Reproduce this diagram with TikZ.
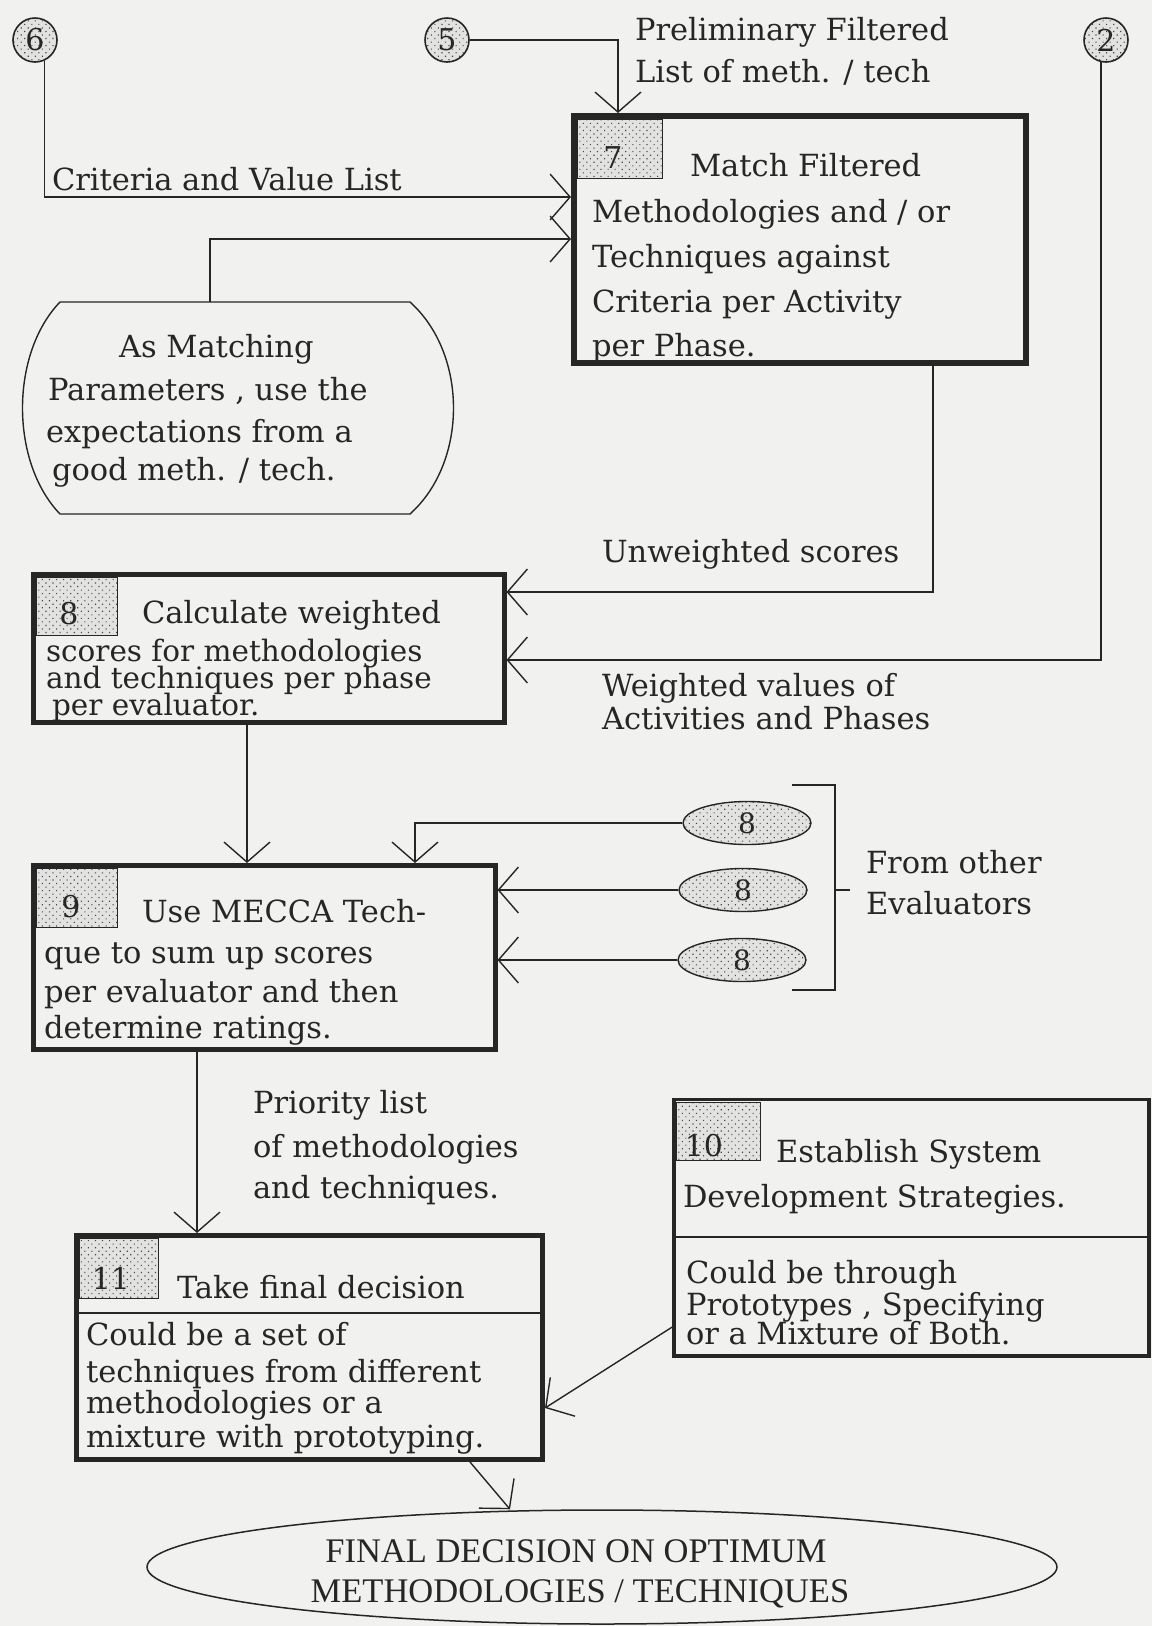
\documentclass[tikz,border=0pt]{standalone}
\usepackage{fontspec}
\setmainfont{DejaVu Serif}
\newfontfamily\capsfont{Liberation Serif}
\usetikzlibrary{arrows.meta,shapes.geometric,patterns.meta}

\definecolor{ink}{RGB}{38,38,38}
\definecolor{paper}{RGB}{241,241,239}
\definecolor{tagfill}{RGB}{226,226,224}

\newcommand\diagfont{\fontsize{30.5}{34}\selectfont}
\newcommand\tightfont{\fontsize{29.5}{32}\selectfont}
\newcommand\tagfont{\fontsize{30}{32}\selectfont}
\newcommand\refnumfont{\fontsize{30}{32}\selectfont}
\newcommand\ovalnumfont{\fontsize{28}{30}\selectfont}
\newcommand\finalfont{\capsfont\fontsize{34.5}{40}\selectfont}

\begin{document}
\begin{tikzpicture}[x=1pt,y=-1pt,
  txt/.style={anchor=base west, inner sep=0pt, outer sep=0pt, font=\diagfont, text=ink},
  num/.style={anchor=base, inner sep=0pt, outer sep=0pt, font=\tagfont, text=ink},
  dotted fill/.style={preaction={fill=tagfill},
    pattern={Dots[distance=5pt,radius=0.8pt,angle=45]}, pattern color=ink!85},
  procbox/.style={rectangle, draw=ink, line width=5pt, fill=paper, anchor=north west, inner sep=0pt},
  tagbox/.style={rectangle, draw=ink, line width=1.2pt, anchor=north west, inner sep=0pt, dotted fill},
  refcirc/.style={circle, draw=ink, line width=1.6pt, minimum size=44pt, inner sep=0pt,
    dotted fill, font=\refnumfont, text=ink},
  evaloval/.style={ellipse, draw=ink, line width=1.4pt, minimum width=128pt, minimum height=43pt,
    inner sep=0pt, dotted fill, font=\ovalnumfont, text=ink},
  wire/.style={draw=ink, line width=1.4pt},
  flow/.style={wire, -{Straight Barb[length=20pt,width=46pt]}},
  rule/.style={draw=ink, line width=1.5pt}]

% page
\fill[paper] (0,0) rectangle (1152,1626);
\useasboundingbox (0,0) rectangle (1152,1626);

% references to earlier steps
\node[refcirc] (c6) at (35,40) {6};
\node[refcirc] (c5) at (447,40) {5};
\node[refcirc] (c2) at (1106,40) {2};

\node[txt] (lprelim1) at (635,40) {Preliminary Filtered};
\node[txt] (lprelim2) at (635,82) {List of meth. / tech};
\node[txt] (lcrit) at (52,190) {Criteria and Value List};

% step 7
\node[procbox, line width=6pt, minimum width=452pt, minimum height=247pt] (box7) at (571,113) {};
\node[tagbox, minimum width=85pt, minimum height=59pt] (tag7) at (577,119) {};
\node[num] (n7) at (613,168) {7};
\node[txt] (t7a) at (690,176) {Match Filtered};
\node[txt] (t7b) at (592,222) {Methodologies and / or};
\node[txt] (t7c) at (592,267) {Techniques against};
\node[txt] (t7d) at (592,312) {Criteria per Activity};
\node[txt] (t7e) at (592,356) {per Phase.};

% matching parameters
\node[rectangle, minimum width=350pt, minimum height=212pt, anchor=north west,
  inner sep=0pt, outer sep=0pt] (match) at (60,302) {};
\draw[wire] (match.north west) -- (match.north east)
  .. controls +(58,52) and +(58,-52) .. (match.south east)
  -- (match.south west)
  .. controls +(-50,-52) and +(-50,52) .. (match.north west) -- cycle;
\node[txt] (tma) at (119,357) {As Matching};
\node[txt] (tmb) at (48,400) {Parameters , use the};
\node[txt] (tmc) at (46,442) {expectations from a};
\node[txt] (tmd) at (52,480) {good meth. / tech.};

% step 8
\node[procbox, minimum width=470.5pt, minimum height=148pt] (box8) at (31,572) {};
\node[tagbox, minimum width=81pt, minimum height=58pt] (tag8) at (36,577) {};
\node[num] (n8) at (69,624) {8};
\node[txt] (t8a) at (142,623) {Calculate weighted};
\node[txt, font=\tightfont] (t8b) at (46,661) {scores for methodologies};
\node[txt, font=\tightfont] (t8c) at (46,688) {and techniques per phase};
\node[txt, font=\tightfont] (t8d) at (52,715) {per evaluator.};

\node[txt] (lunw) at (602,562) {Unweighted scores};
\node[txt] (lw1) at (602,696) {Weighted values of};
\node[txt] (lw2) at (602,729) {Activities and Phases};

% other evaluators
\node[evaloval] (e8a) at (747,823) {8};
\node[evaloval] (e8b) at (743,890) {8};
\node[evaloval] (e8c) at (742,960) {8};
\draw[wire] (792,785) -| (835,990) -- (792,990);
\draw[wire] (835,890) -- (850,890);
\node[txt] (lfrom1) at (866,873) {From other};
\node[txt] (lfrom2) at (866,914) {Evaluators};

% step 9
\node[procbox, minimum width=461.5pt, minimum height=184pt] (box9) at (31,863) {};
\node[tagbox, minimum width=81pt, minimum height=59pt] (tag9) at (36,868) {};
\node[num] (n9) at (71,917) {9};
\node[txt] (t9a) at (142,922) {Use MECCA Tech-};
\node[txt] (t9b) at (44,963) {que to sum up scores};
\node[txt] (t9c) at (44,1002) {per evaluator and then};
\node[txt] (t9d) at (44,1038) {determine ratings.};

\node[txt] (lprio1) at (253,1113) {Priority list};
\node[txt] (lprio2) at (253,1157) {of methodologies};
\node[txt] (lprio3) at (253,1198) {and techniques.};

% step 10
\node[procbox, line width=3.5pt, minimum width=475pt, minimum height=256.5pt] (box10) at (672.25,1097.75) {};
\node[tagbox, minimum width=84pt, minimum height=58pt] (tag10) at (676,1102) {};
\node[num] (n10) at (704,1156) {10};
\draw[rule] (box10.west |- 0,1237) -- (box10.east |- 0,1237);
\node[txt] (t10a) at (776,1162) {Establish System};
\node[txt] (t10b) at (683,1207) {Development Strategies.};
\node[txt] (t10c) at (686,1283) {Could be through};
\node[txt] (t10d) at (686,1315) {Prototypes , Specifying};
\node[txt] (t10e) at (686,1344) {or a Mixture of Both.};

% step 11
\node[procbox, minimum width=466pt, minimum height=224pt] (box11) at (74,1233) {};
\node[tagbox, minimum width=79pt, minimum height=60pt] (tag11) at (79,1238) {};
\node[num] (n11) at (111,1289) {11};
\draw[rule] (box11.west |- 0,1313) -- (box11.east |- 0,1313);
\node[txt] (t11a) at (177,1298) {Take final decision};
\node[txt] (t11b) at (86,1345) {Could be a set of};
\node[txt] (t11c) at (86,1382) {techniques from different};
\node[txt] (t11d) at (86,1413) {methodologies or a};
\node[txt] (t11e) at (86,1447) {mixture with prototyping.};

% outcome
\node[ellipse, draw=ink, line width=1.5pt, minimum width=910pt, minimum height=114pt,
  inner sep=0pt] (final) at (602,1567) {};
\node[anchor=base, inner sep=0pt, font=\finalfont, text=ink] (tf1) at (576,1562) {FINAL DECISION ON OPTIMUM};
\node[anchor=base, inner sep=0pt, font=\finalfont, text=ink] (tf2) at (580,1602) {METHODOLOGIES / TECHNIQUES};

% connectors
\draw[flow] (c6.-66) |- (box7.west |- 0,197);
\draw[flow] (c5.east) -| (box7.north -| 618,0);
\draw[flow] (match.north -| 210,0) |- (box7.west |- 0,239);
\draw[flow] (box7.south -| 933,0) |- (box8.east |- 0,592);
\draw[flow] (c2.-103) |- (box8.east |- 0,660);
\draw[flow] (box8.south -| 247,0) -- (box9.north -| 247,0);
\draw[flow] (e8a.west) -| (box9.north -| 415,0);
\draw[flow] (e8b.west) -- (box9.east |- e8b.west);
\draw[flow] (e8c.west) -- (box9.east |- e8c.west);
\draw[flow] (box9.south -| 197,0) -- (box11.north -| 197,0);
\draw[flow] (box10.west |- 0,1327) -- (box11.east |- 0,1408);
\draw[flow] (box11.south -| 470,0) -- (final.north -| 510,0);
\end{tikzpicture}
\end{document}
